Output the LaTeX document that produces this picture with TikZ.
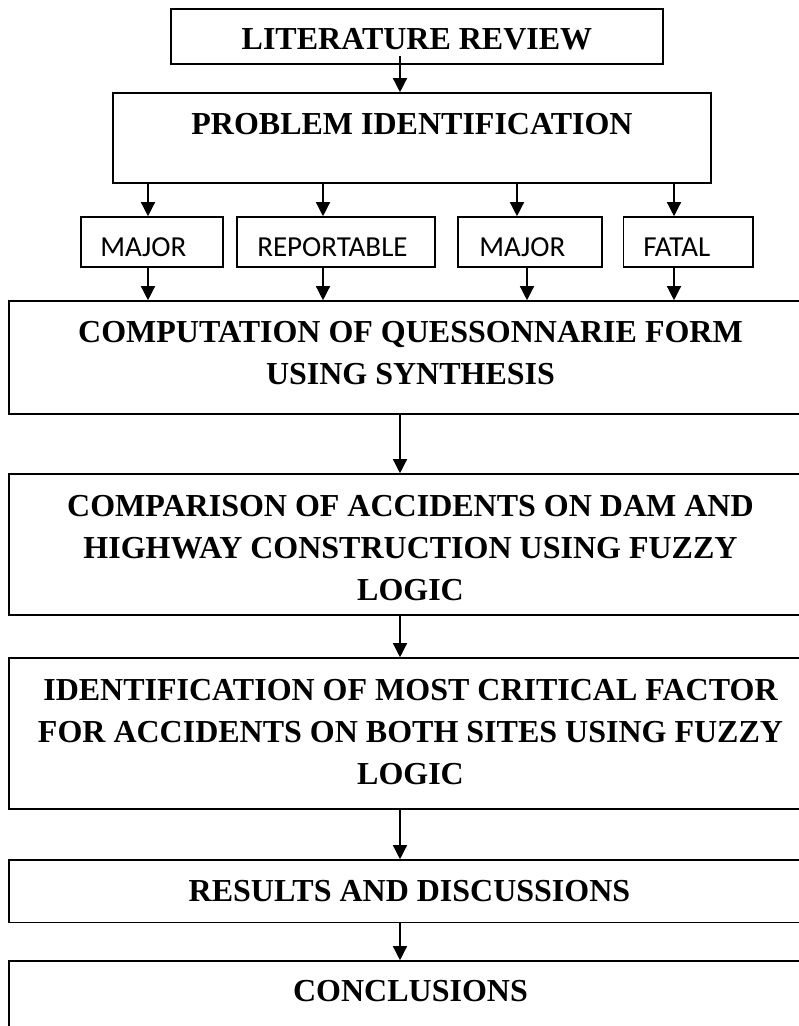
\documentclass[tikz,border=0pt]{standalone}
\usepackage{fontspec}
\setmainfont{Liberation Serif}
\newfontfamily\calibrifont{Carlito}
\usetikzlibrary{arrows.meta,fit}
\begin{document}
\begin{tikzpicture}[x=0.75pt,y=-0.75pt,
  box/.style={draw, line width=1.2pt, inner sep=0pt, rectangle},
  head/.style={font=\bfseries\fontsize{24}{30}\selectfont, inner sep=0pt, anchor=base},
  tag/.style={font=\calibrifont\fontsize{21.75}{26}\selectfont, inner sep=0pt, anchor=base west},
  flow/.style={line width=1pt, -{Triangle[length=10.5pt,width=10.5pt]}}]
\useasboundingbox (0,0) rectangle (799,1026);
\clip (0,0) rectangle (799,1026);

% boxes
\node[box, fit={(171,9) (663,64)}] (lit) {};
\node[box, fit={(113,93) (711,183)}] (pi) {};
\node[box, fit={(81,217) (223,267)}] (maj1) {};
\node[box, fit={(237,217) (435,267)}] (rep) {};
\node[box, fit={(458,217) (602,267)}] (maj2) {};
\node[box, fit={(623.5,217) (753,267)}] (fat) {};
\node[box, fit={(9,301) (812,414)}] (comp) {};
\node[box, fit={(9,474) (812,615)}] (cmpr) {};
\node[box, fit={(9,658) (812,809)}] (ident) {};
\node[box, fit={(9,860) (812,922.5)}] (res) {};
\node[box, fit={(9,961) (812,1040)}] (concl) {};

% texts
\node[head] (lit-t) at (417,49) {LITERATURE REVIEW};
\node[head] (pi-t) at (412,134) {PROBLEM IDENTIFICATION};
\node[tag] (maj1-t) at (100,256) {MAJOR};
\node[tag] (rep-t) at (257,256) {REPORTABLE};
\node[tag] (maj2-t) at (479,256) {MAJOR};
\node[tag] (fat-t) at (643,256) {FATAL};
\node[head] (comp-t1) at (410.5,342.7) {COMPUTATION OF QUESSONNARIE FORM};
\node[head] (comp-t2) at (410.5,384) {USING SYNTHESIS};
\node[head] (cmpr-t1) at (410.5,516) {COMPARISON OF ACCIDENTS ON DAM AND};
\node[head] (cmpr-t2) at (410.5,558) {HIGHWAY CONSTRUCTION USING FUZZY};
\node[head] (cmpr-t3) at (410.5,600) {LOGIC};
\node[head] (ident-t1) at (410.5,700) {IDENTIFICATION OF MOST CRITICAL FACTOR};
\node[head] (ident-t2) at (410.5,742) {FOR ACCIDENTS ON BOTH SITES USING FUZZY};
\node[head] (ident-t3) at (410.5,784) {LOGIC};
\node[head] (res-t) at (409.5,901.7) {RESULTS AND DISCUSSIONS};
\node[head] (concl-t) at (410.5,1001.7) {CONCLUSIONS};

% connector columns
\coordinate (ax) at (400,0);
\coordinate (a1) at (148,0);
\coordinate (a2) at (323,0);
\coordinate (a3) at (517,0);
\coordinate (a3b) at (527,0);
\coordinate (a4) at (674,0);

% connectors
\draw[flow] ([yshift=6.75pt]lit.south -| ax) -- (pi.north -| ax);
\draw[flow] (pi.south -| a1) -- (maj1.north -| a1);
\draw[flow] (pi.south -| a2) -- (rep.north -| a2);
\draw[flow] (pi.south -| a3) -- (maj2.north -| a3);
\draw[flow] (pi.south -| a4) -- (fat.north -| a4);
\draw[flow] (maj1.south -| a1) -- (comp.north -| a1);
\draw[flow] (rep.south -| a2) -- (comp.north -| a2);
\draw[flow] (maj2.south -| a3b) -- (comp.north -| a3b);
\draw[flow] (fat.south -| a4) -- (comp.north -| a4);
\draw[flow] (comp.south -| ax) -- (cmpr.north -| ax);
\draw[flow] (cmpr.south -| ax) -- (ident.north -| ax);
\draw[flow] (ident.south -| ax) -- (res.north -| ax);
\draw[flow] (res.south -| ax) -- (concl.north -| ax);
\end{tikzpicture}
\end{document}
